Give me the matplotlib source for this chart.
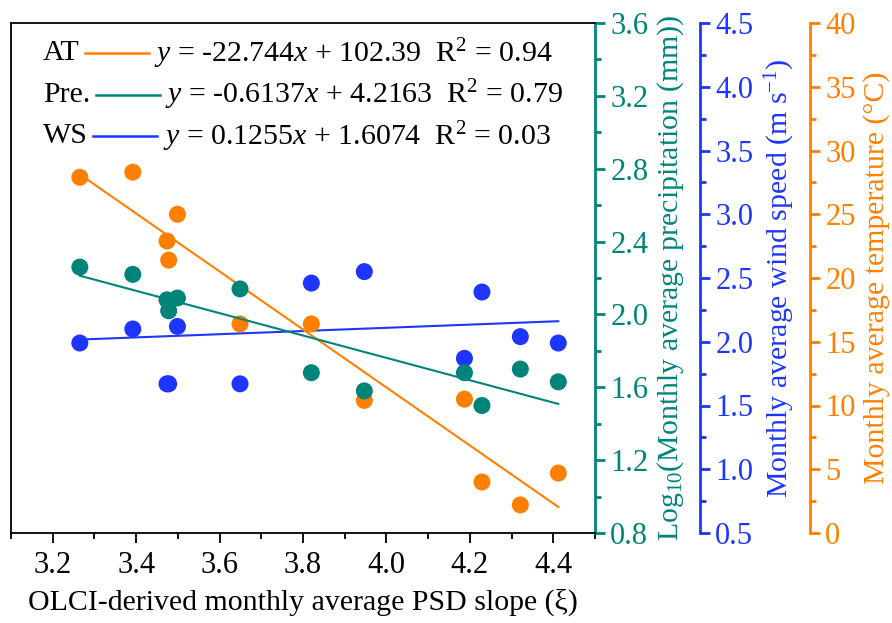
import numpy as np
import matplotlib
matplotlib.use("Agg")
import matplotlib.pyplot as plt
from matplotlib.lines import Line2D
from matplotlib.offsetbox import TextArea, DrawingArea, HPacker, VPacker, AnchoredOffsetbox

plt.rcParams['font.family'] = ['Liberation Serif', 'DejaVu Serif']
plt.rcParams['mathtext.fontset'] = 'custom'
plt.rcParams['mathtext.rm'] = 'Liberation Serif'
plt.rcParams['mathtext.it'] = 'Liberation Serif:italic'

# datos (12 meses)
psd_slope = [3.265, 3.392, 3.474, 3.478, 3.499, 3.649, 3.820, 3.947, 4.187, 4.229, 4.321, 4.412]
temp_at = [27.9, 28.3, 22.9, 21.4, 25.0, 16.4, 16.4, 10.4, 10.5, 4.0, 2.2, 4.7]
log_pre = [2.26, 2.22, 2.08, 2.02, 2.09, 2.14, 1.68, 1.58, 1.68, 1.50, 1.70, 1.63]
wind_ws = [1.99, 2.10, 1.67, 1.67, 2.12, 1.67, 2.46, 2.55, 1.87, 2.39, 2.04, 1.99]

# ajustes lineales (de las ecuaciones de la leyenda)
nombres = ['AT', 'Pre.', 'WS']
pendientes = [-22.744, -0.6137, 0.1255]
intercepts = [102.39, 4.2163, 1.6074]
ecuaciones = [
    r'$y$ = -22.744$x$ + 102.39  R$^2$ = 0.94',
    r'$y$ = -0.6137$x$ + 4.2163  R$^2$ = 0.79',
    r'$y$ = 0.1255$x$ + 1.6074  R$^2$ = 0.03',
]

c_at = '#FF8000'
c_pre = '#00847A'
c_ws = '#1E35FF'

fig = plt.figure(figsize=(8.92, 6.23), dpi=100)
ax = fig.add_axes([11/892, 1-533/623, 584/892, 510/623])
ax_ws = ax.twinx()
ax_at = ax.twinx()

ax.set_zorder(3)
ax_at.set_zorder(2)
ax_ws.set_zorder(1)
for a in (ax, ax_at, ax_ws):
    a.patch.set_visible(False)

x = np.array(psd_slope)
xl = np.array([x.min(), x.max()])

ax_ws.scatter(x, wind_ws, s=150, color=c_ws, edgecolors='none')
ax_ws.plot(xl, pendientes[2]*xl + intercepts[2], color=c_ws, lw=1.5)
ax_at.scatter(x, temp_at, s=150, color=c_at, edgecolors='none')
ax_at.plot(xl, pendientes[0]*xl + intercepts[0], color=c_at, lw=1.5)
ax.scatter(x, log_pre, s=150, color=c_pre, edgecolors='none')
ax.plot(xl, pendientes[1]*xl + intercepts[1], color=c_pre, lw=1.5)

ax.set_xlim(3.1, 4.5)
ax.set_ylim(0.8, 3.6)
ax_ws.set_ylim(0.5, 4.5)
ax_at.set_ylim(0, 40)

fs_tick = 22
fs_lab = 21.5
# eje x
ax.set_xticks(np.arange(3.2, 4.41, 0.2))
ax.set_xticks(np.arange(3.1, 4.51, 0.1), minor=True)
ax.xaxis.set_major_formatter(matplotlib.ticker.FormatStrFormatter('%.1f'))
ax.tick_params(axis='x', which='major', direction='out', length=7, width=1.3, labelsize=fs_tick, pad=6)
ax.tick_params(axis='x', which='minor', direction='out', length=4, width=1.3)
ax.set_xlabel('OLCI-derived monthly average PSD slope (ξ)', fontsize=fs_lab, labelpad=6)

# eje precipitacion (derecha del marco)
ax.yaxis.tick_right()
ax.yaxis.set_label_position('right')
ax.set_yticks(np.arange(0.8, 3.61, 0.4))
ax.set_yticks(np.arange(0.8, 3.61, 0.2), minor=True)
ax.yaxis.set_major_formatter(matplotlib.ticker.FormatStrFormatter('%.1f'))
ax.tick_params(axis='y', which='both', colors=c_pre, direction='out', width=2, labelsize=fs_tick, pad=4)
ax.tick_params(axis='y', which='major', length=7)
ax.tick_params(axis='y', which='minor', length=4)
ax.set_ylabel(r'Log$_{10}$(Monthly average precipitation (mm))', fontsize=fs_lab, color=c_pre, labelpad=5)
for s in ('left', 'top', 'bottom'):
    ax.spines[s].set_linewidth(1.3)
ax.spines['right'].set_color(c_pre)
ax.spines['right'].set_linewidth(2)

# eje viento (outward en puntos: 105 px)
ax_ws.spines['right'].set_position(('outward', 105 * 0.72))
ax_ws.set_yticks(np.arange(0.5, 4.51, 0.5))
ax_ws.set_yticks(np.arange(0.5, 4.51, 0.25), minor=True)
ax_ws.yaxis.set_major_formatter(matplotlib.ticker.FormatStrFormatter('%.1f'))
ax_ws.tick_params(axis='y', which='both', colors=c_ws, direction='out', width=2, labelsize=fs_tick, pad=4)
ax_ws.tick_params(axis='y', which='major', length=7)
ax_ws.tick_params(axis='y', which='minor', length=4)
ax_ws.set_ylabel(r'Monthly average wind speed (m s$^{\mathrm{-1}}$)', fontsize=fs_lab, color=c_ws, labelpad=7)
ax_ws.spines['right'].set_color(c_ws)
ax_ws.spines['right'].set_linewidth(2)

# eje temperatura (215 px)
ax_at.spines['right'].set_position(('outward', 215 * 0.72))
ax_at.set_yticks(np.arange(0, 41, 5))
ax_at.set_yticks(np.arange(0, 41, 2.5), minor=True)
ax_at.tick_params(axis='y', which='both', colors=c_at, direction='out', width=2, labelsize=fs_tick, pad=4)
ax_at.tick_params(axis='y', which='major', length=7)
ax_at.tick_params(axis='y', which='minor', length=4)
ax_at.set_ylabel('Monthly average temperature (°C)', fontsize=fs_lab, color=c_at, labelpad=5)
ax_at.spines['right'].set_color(c_at)
ax_at.spines['right'].set_linewidth(2)

for a in (ax_ws, ax_at):
    for s in ('left', 'top', 'bottom'):
        a.spines[s].set_visible(False)

# leyenda: nombre, linea, ecuacion
filas = []
for nombre, eq, col in zip(nombres, ecuaciones, [c_at, c_pre, c_ws]):
    da = DrawingArea(46, 8, 0, 0)
    da.add_artist(Line2D([0, 46], [4, 4], color=col, lw=1.8))
    filas.append(HPacker(children=[TextArea(nombre, textprops=dict(fontsize=fs_lab)), da,
                                   TextArea(eq, textprops=dict(fontsize=fs_lab))],
                         align='center', pad=0, sep=4))
caja = VPacker(children=filas, align='left', pad=0, sep=5)
anc = AnchoredOffsetbox(loc='upper left', child=caja, frameon=False,
                        bbox_to_anchor=(0.045, 0.985), bbox_transform=ax.transAxes, borderpad=0)
ax.add_artist(anc)

fig.savefig('out.png', dpi=100)
